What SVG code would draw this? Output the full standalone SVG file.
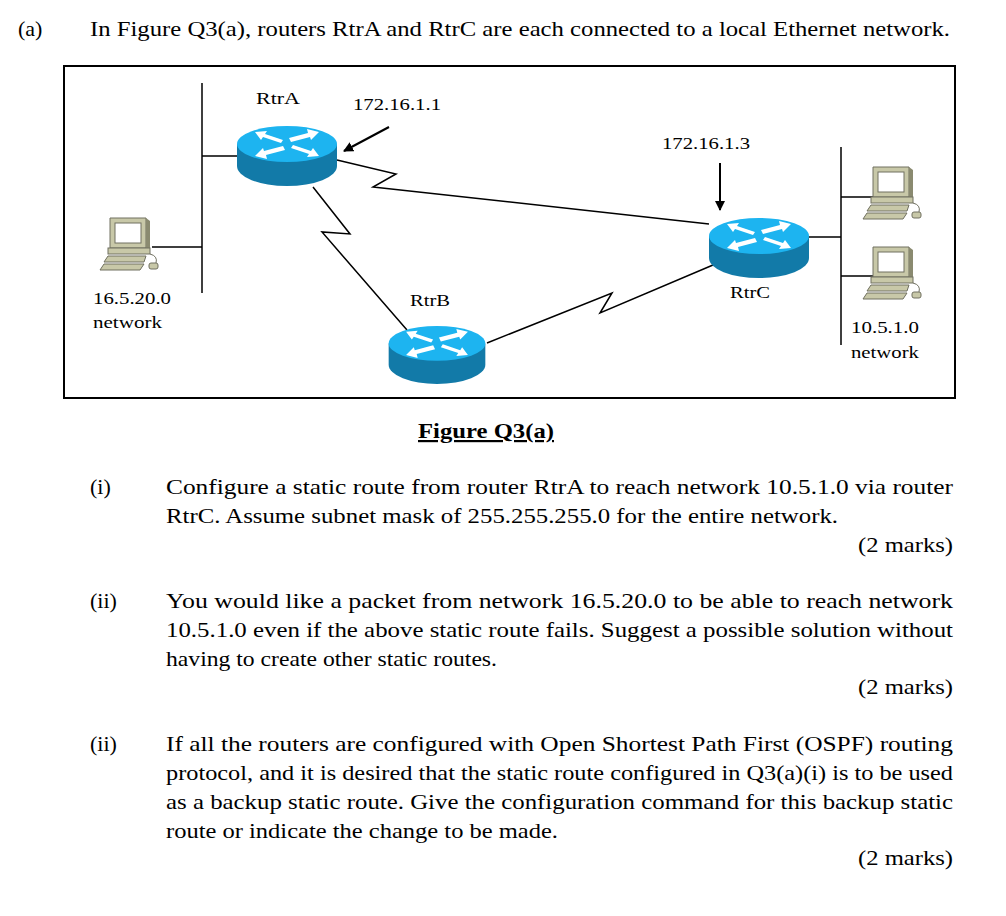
<svg xmlns="http://www.w3.org/2000/svg" width="1006" height="916" viewBox="0 0 1006 916">
<style>
.t{font-family:"Liberation Serif","Times New Roman",serif;font-size:22px;fill:#000}
.s{font-family:"Liberation Serif","Times New Roman",serif;font-size:17px;fill:#000}
.ln{stroke:#000;stroke-width:1.5;fill:none}
</style>
<defs>
<marker id="ah" viewBox="0 0 10 10" refX="9" refY="5" markerWidth="5" markerHeight="5" orient="auto"><path d="M0,0L10,5L0,10Z" fill="#000"/></marker>
<symbol id="router" viewBox="0 0 100 60" overflow="visible">
<path d="M0,18 L0,40 A50,20 0 0 0 100,40 L100,18 Z" fill="#127aa8"/>
<ellipse cx="50" cy="18" rx="50" ry="18" fill="#1db4f0"/>
<g fill="#fff">
<path d="M18,6 L30,5 L28,8 L46,14 L44,17 L26,11 L24,14Z"/>
<path d="M82,6 L70,3 L71,7 L52,12 L54,16 L73,11 L74,14Z"/>
<path d="M18,30 L30,33 L29,29 L48,24 L46,20 L27,25 L26,22Z"/>
<path d="M82,30 L70,31 L72,28 L54,22 L56,19 L74,25 L76,22Z"/>
</g>
</symbol>
<symbol id="pc" viewBox="0 0 60 55" overflow="visible">
<path d="M10,0 L46,0 L46,30 L10,30Z" fill="#c8c8a8" stroke="#707060"/>
<rect x="15" y="5" width="26" height="20" fill="#fff" stroke="#707060"/>
<path d="M46,0 L50,3 L50,32 L46,30Z" fill="#8a8a70"/>
<rect x="8" y="30" width="42" height="6" fill="#c8c8a8" stroke="#707060"/>
<path d="M4,44 L8,38 L46,38 L44,44Z" fill="#c8c8a8" stroke="#707060"/>
<path d="M0,52 L4,46 L44,46 L40,52Z" fill="#c8c8a8" stroke="#707060"/>
<path d="M50,36 Q58,38 56,45" stroke="#707060" fill="none"/>
<rect x="49" y="45" width="9" height="6" rx="2" fill="#c8c8a8" stroke="#707060"/>
</symbol>
</defs>
<rect width="1006" height="916" fill="#fff"/>
<text class="t" x="18" y="36">(a)</text>
<text class="t" x="90" y="36" textLength="860" lengthAdjust="spacingAndGlyphs">In Figure Q3(a), routers RtrA and RtrC are each connected to a local Ethernet network.</text>
<rect x="64" y="66" width="891" height="332" fill="none" stroke="#000" stroke-width="2"/>
<g id="connectors" class="ln">
<path d="M202,83 V293 M202,156 H237 M152,247 H202"/>
<path d="M841,147 V345 M809,237 H841 M841,197 H878 M841,276 H878"/>
<path d="M337,160 L396,174 L373,187 L709,224"/>
<path d="M313,187 L350,234 L322,232 L407,330"/>
<path d="M487,343 L612,293 L600,313 L713,265"/>
<path d="M389,127 L344,151" marker-end="url(#ah)" stroke-width="2"/>
<path d="M720,163 V210" marker-end="url(#ah)" stroke-width="2"/>
</g>
<g id="rtrA"><use href="#router" x="237" y="126" width="100" height="60"/><text class="s" x="278" y="104" text-anchor="middle" textLength="44" lengthAdjust="spacingAndGlyphs">RtrA</text></g>
<g id="rtrB"><use href="#router" x="387" y="326" width="100" height="58"/><text class="s" x="430" y="306" text-anchor="middle" textLength="40" lengthAdjust="spacingAndGlyphs">RtrB</text></g>
<g id="rtrC"><use href="#router" x="709" y="218" width="100" height="60"/><text class="s" x="750" y="298" text-anchor="middle" textLength="40" lengthAdjust="spacingAndGlyphs">RtrC</text></g>
<g id="pcA"><use href="#pc" x="100" y="218" width="60" height="55"/></g>
<g id="pcC1"><use href="#pc" x="863" y="167" width="60" height="55"/></g>
<g id="pcC2"><use href="#pc" x="863" y="247" width="60" height="55"/></g>
<g id="labels">
<text class="s" x="353" y="110" textLength="88" lengthAdjust="spacingAndGlyphs">172.16.1.1</text>
<text class="s" x="662" y="149" textLength="88" lengthAdjust="spacingAndGlyphs">172.16.1.3</text>
<text class="s" x="93" y="304" textLength="78" lengthAdjust="spacingAndGlyphs">16.5.20.0</text>
<text class="s" x="93" y="328" textLength="69" lengthAdjust="spacingAndGlyphs">network</text>
<text class="s" x="851" y="333" textLength="68" lengthAdjust="spacingAndGlyphs">10.5.1.0</text>
<text class="s" x="851" y="358" textLength="68" lengthAdjust="spacingAndGlyphs">network</text>
</g>
<text class="t" x="418" y="438" textLength="136" lengthAdjust="spacingAndGlyphs" font-weight="bold" text-decoration="underline">Figure Q3(a)</text>
<g id="q">
<text class="t" x="90" y="494">(i)</text>
<text class="t" x="166" y="494" textLength="787" lengthAdjust="spacingAndGlyphs">Configure a static route from router RtrA to reach network 10.5.1.0 via router</text>
<text class="t" x="166" y="523" textLength="672" lengthAdjust="spacingAndGlyphs">RtrC. Assume subnet mask of 255.255.255.0 for the entire network.</text>
<text class="t" x="858" y="552" textLength="95" lengthAdjust="spacingAndGlyphs">(2 marks)</text>
<text class="t" x="90" y="608">(ii)</text>
<text class="t" x="166" y="608" textLength="787" lengthAdjust="spacingAndGlyphs">You would like a packet from network 16.5.20.0 to be able to reach network</text>
<text class="t" x="166" y="637" textLength="787" lengthAdjust="spacingAndGlyphs">10.5.1.0 even if the above static route fails. Suggest a possible solution without</text>
<text class="t" x="166" y="666" textLength="331" lengthAdjust="spacingAndGlyphs">having to create other static routes.</text>
<text class="t" x="858" y="694" textLength="95" lengthAdjust="spacingAndGlyphs">(2 marks)</text>
<text class="t" x="90" y="751">(ii)</text>
<text class="t" x="166" y="751" textLength="787" lengthAdjust="spacingAndGlyphs">If all the routers are configured with Open Shortest Path First (OSPF) routing</text>
<text class="t" x="166" y="780" textLength="787" lengthAdjust="spacingAndGlyphs">protocol, and it is desired that the static route configured in Q3(a)(i) is to be used</text>
<text class="t" x="166" y="809" textLength="787" lengthAdjust="spacingAndGlyphs">as a backup static route. Give the configuration command for this backup static</text>
<text class="t" x="166" y="838" textLength="392" lengthAdjust="spacingAndGlyphs">route or indicate the change to be made.</text>
<text class="t" x="858" y="865" textLength="95" lengthAdjust="spacingAndGlyphs">(2 marks)</text>
</g>
</svg>
